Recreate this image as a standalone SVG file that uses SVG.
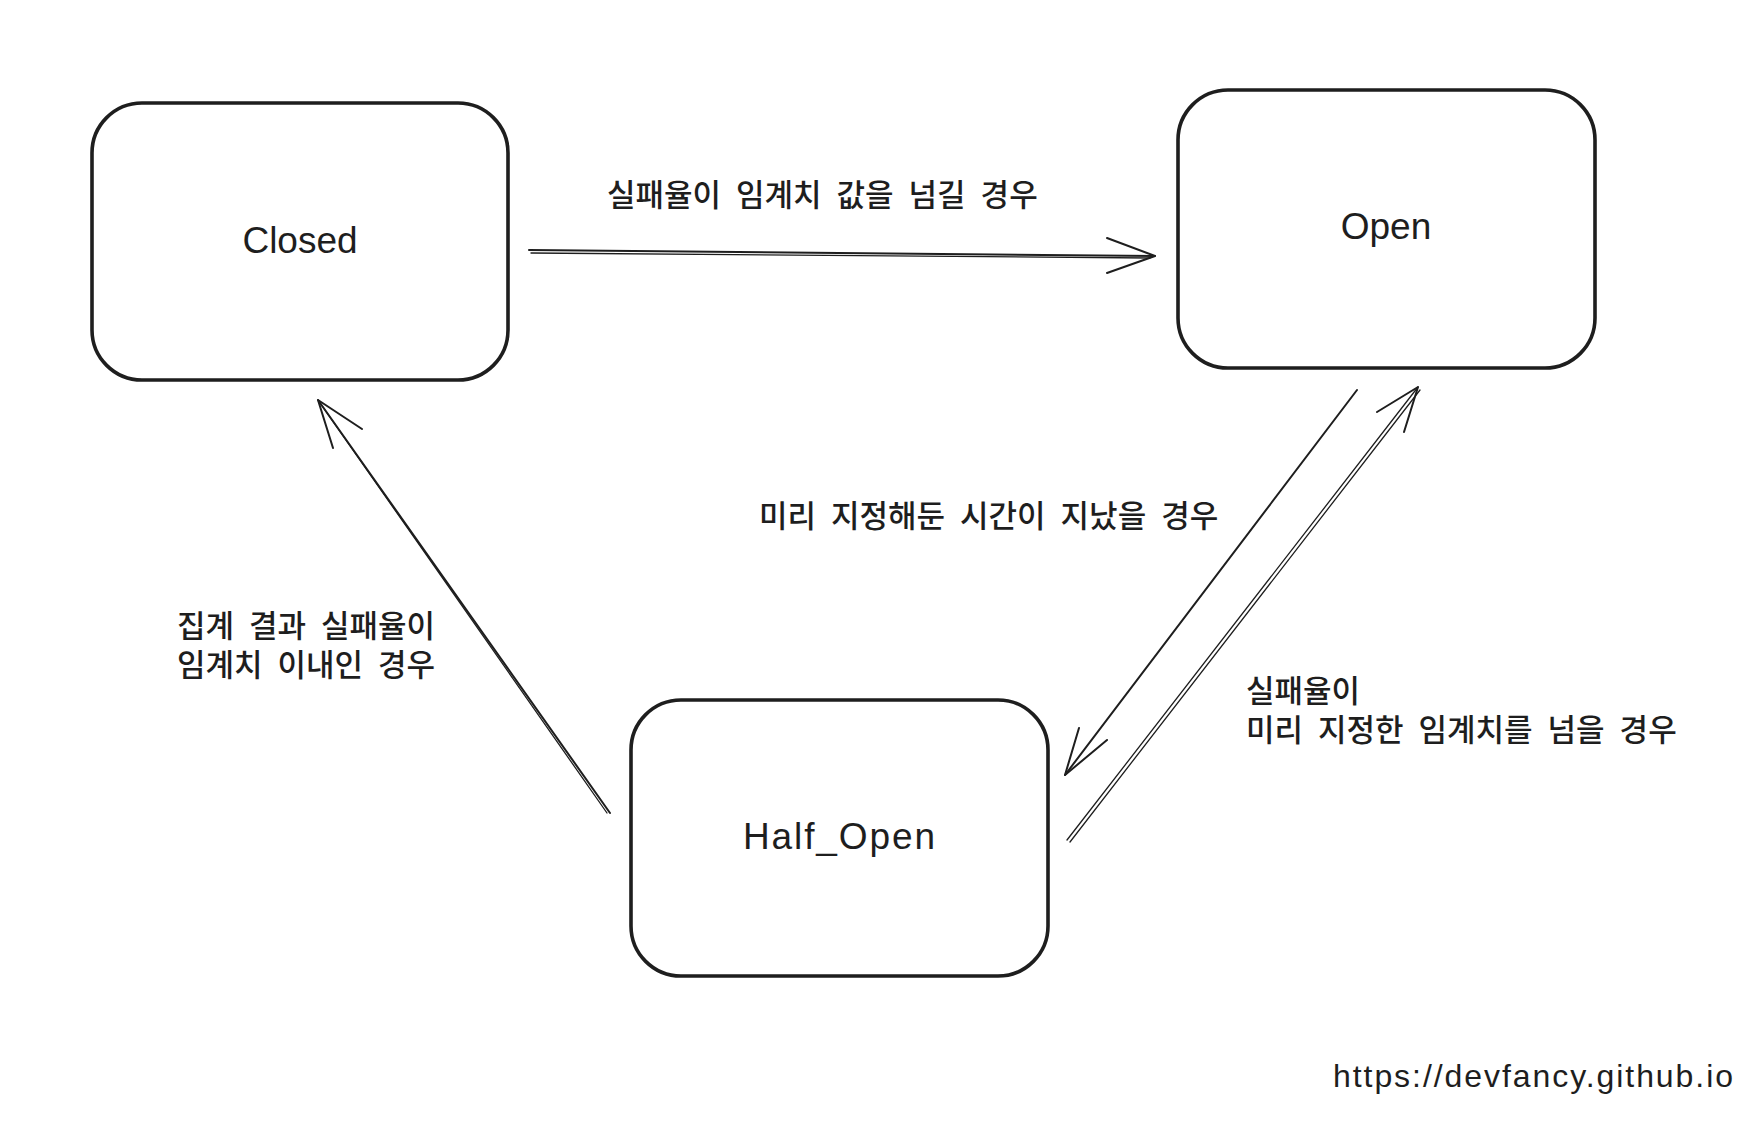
<svg xmlns="http://www.w3.org/2000/svg" width="1764" height="1142" viewBox="0 0 1764 1142">
  <style>
    .box { fill: #ffffff; stroke: #1e1e1e; stroke-width: 3.6; }
    .node-label { font-family: "Liberation Sans", "Noto Sans", sans-serif; font-size: 37px; fill: #1e1e1e; text-anchor: middle; }
    .edge-label { font-family: "Noto Sans CJK KR", "Noto Sans", sans-serif; font-size: 31px; font-weight: 500; fill: #1e1e1e; word-spacing: 8px; }
    .conn { fill: none; stroke: #1e1e1e; stroke-width: 2; stroke-linecap: round; stroke-linejoin: round; }
    .conn-thin { fill: none; stroke: #1e1e1e; stroke-width: 1.3; stroke-linecap: round; }
    .url { font-family: "Liberation Sans", "Noto Sans", sans-serif; font-size: 32px; fill: #1e1e1e; }
  </style>
  <rect width="1764" height="1142" fill="#ffffff"/>

  <g id="node-closed">
    <rect class="box" x="92" y="103" width="416" height="277" rx="50" ry="50"/>
    <text class="node-label" x="300" y="253">Closed</text>
  </g>

  <g id="node-open">
    <rect class="box" x="1178" y="90" width="417" height="278" rx="50" ry="50"/>
    <text class="node-label" x="1386" y="239">Open</text>
  </g>

  <g id="node-half-open">
    <rect class="box" x="631" y="700" width="417" height="276" rx="50" ry="50"/>
    <text class="node-label" x="839" y="849" textLength="192" lengthAdjust="spacing">Half_Open</text>
  </g>

  <g id="connectors">
    <!-- Closed -> Open -->
    <path class="conn" d="M529 250 L1155 256"/>
    <path class="conn-thin" d="M531 253 L1150 258"/>
    <path class="conn" d="M1107 238 L1155 256 L1107 273"/>

    <!-- Open -> Half_Open -->
    <path class="conn" d="M1357 390 L1065 775"/>
    <path class="conn" d="M1079 728 L1065 775 L1107 740"/>

    <!-- Half_Open -> Open -->
    <path class="conn-thin" d="M1067 840 L1418 387"/>
    <path class="conn-thin" d="M1070 842 L1420 390"/>
    <path class="conn" d="M1377 412 L1418 387 L1404 432"/>

    <!-- Half_Open -> Closed -->
    <path class="conn" d="M610 813 L318 400"/>
    <path class="conn-thin" d="M607 813 L320 403"/>
    <path class="conn" d="M362 429 L318 400 L333 448"/>
  </g>

  <g id="labels">
    <text class="edge-label" x="607" y="206">실패율이 임계치 값을 넘길 경우</text>
    <text class="edge-label" x="759" y="527">미리 지정해둔 시간이 지났을 경우</text>
    <text class="edge-label"><tspan x="177" y="637">집계 결과 실패율이</tspan><tspan x="177" y="676">임계치 이내인 경우</tspan></text>
    <text class="edge-label"><tspan x="1246" y="702">실패율이</tspan><tspan x="1246" y="741">미리 지정한 임계치를 넘을 경우</tspan></text>
  </g>

  <text class="url" x="1333" y="1087" textLength="400" lengthAdjust="spacing">https://devfancy.github.io</text>
</svg>
